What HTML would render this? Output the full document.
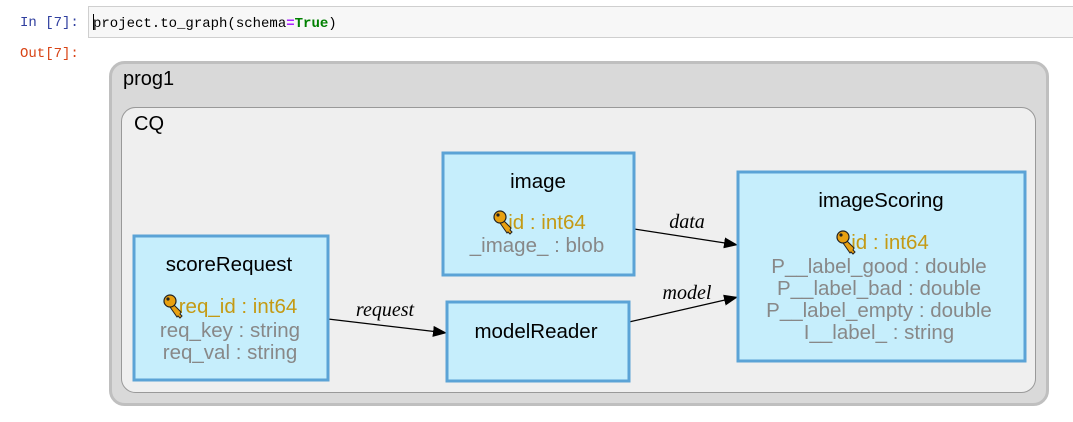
<!DOCTYPE html>
<html><head><meta charset="utf-8"><style>
html,body{margin:0;padding:0;background:#fff;width:1073px;height:422px;overflow:hidden}
svg{display:block}
.sans{font-family:"Liberation Sans",sans-serif}
.mono{font-family:"Liberation Mono",monospace}
</style></head><body>
<svg width="1073" height="422" viewBox="0 0 1073 422" xmlns="http://www.w3.org/2000/svg">
<defs>
<g id="key">
<path d="M2,2 L11,11 L10,13 L12,15 L10,17 L8,15 L7,16 L0,6 Z" fill="#e8a010" stroke="#222" stroke-width="1"/>
<circle cx="0" cy="0" r="6" fill="#e8a010" stroke="#222" stroke-width="1.2"/>
<circle cx="-2" cy="-2" r="1.6" fill="#222"/>
</g>
<marker id="ah" markerWidth="15" markerHeight="11" refX="14" refY="5.5" orient="auto" markerUnits="userSpaceOnUse">
<path d="M0,0 L14,5.5 L0,11 Z" fill="#000"/>
</marker>
</defs>
<text x="20" y="26" class="mono" font-size="14" fill="#303f9f">In [7]:</text>
<rect x="88.5" y="6.5" width="990" height="31" fill="#f7f7f7" stroke="#cfcfcf"/>
<line x1="93.5" y1="14" x2="93.5" y2="30" stroke="#000"/>
<text x="93" y="27" class="mono" font-size="14" fill="#000">project.to_graph(schema<tspan fill="#aa22ff" font-weight="bold">=</tspan><tspan fill="#008000" font-weight="bold">True</tspan>)</text>
<text x="20" y="57" class="mono" font-size="14" fill="#d84315">Out[7]:</text>

<rect x="110.5" y="62.5" width="937" height="342" rx="14" fill="#d9d9d9" stroke="#bfbfbf" stroke-width="3"/>
<text x="123" y="85" class="sans" font-size="20" fill="#000">prog1</text>
<rect x="121.5" y="107.5" width="914" height="285" rx="14" fill="#efefef" stroke="#999" stroke-width="1"/>
<text x="134" y="130" class="sans" font-size="20" fill="#000">CQ</text>

<line x1="328" y1="319" x2="447" y2="333" stroke="#000" stroke-width="1.3" marker-end="url(#ah)"/>
<text x="385" y="316" font-family="Liberation Serif,serif" font-style="italic" font-size="20" text-anchor="middle">request</text>
<line x1="634" y1="229" x2="738" y2="245" stroke="#000" stroke-width="1.3" marker-end="url(#ah)"/>
<text x="687" y="228" font-family="Liberation Serif,serif" font-style="italic" font-size="20" text-anchor="middle">data</text>
<line x1="629" y1="322" x2="738" y2="297" stroke="#000" stroke-width="1.3" marker-end="url(#ah)"/>
<text x="687" y="299" font-family="Liberation Serif,serif" font-style="italic" font-size="20" text-anchor="middle">model</text>

<rect x="134" y="236" width="194" height="144" fill="#c6eefc" stroke="#5ba3d6" stroke-width="3"/>
<g class="sans" font-size="20.5" text-anchor="middle">
<text x="229" y="271" fill="#000">scoreRequest</text>
<text x="238" y="313" fill="#c49a14">req_id : int64</text>
<text x="230" y="337" fill="#888">req_key : string</text>
<text x="230" y="359" fill="#888">req_val : string</text>
</g>
<use href="#key" x="170" y="301"/>

<rect x="443" y="153" width="191" height="122" fill="#c6eefc" stroke="#5ba3d6" stroke-width="3"/>
<g class="sans" font-size="20.5" text-anchor="middle">
<text x="538" y="188" fill="#000">image</text>
<text x="547" y="229" fill="#c49a14">id : int64</text>
<text x="537" y="252" fill="#888">_image_ : blob</text>
</g>
<use href="#key" x="500" y="217"/>

<rect x="447" y="302" width="182" height="79" fill="#c6eefc" stroke="#5ba3d6" stroke-width="3"/>
<text x="536" y="338" class="sans" font-size="20.5" text-anchor="middle" fill="#000">modelReader</text>

<rect x="738" y="172" width="287" height="189" fill="#c6eefc" stroke="#5ba3d6" stroke-width="3"/>
<g class="sans" font-size="20.5" text-anchor="middle">
<text x="881" y="207" fill="#000">imageScoring</text>
<text x="890" y="249" fill="#c49a14">id : int64</text>
<text x="879" y="273" fill="#888">P__label_good : double</text>
<text x="879" y="295" fill="#888">P__label_bad : double</text>
<text x="879" y="317" fill="#888">P__label_empty : double</text>
<text x="879" y="339" fill="#888">I__label_ : string</text>
</g>
<use href="#key" x="843" y="237"/>
</svg>
</body></html>
